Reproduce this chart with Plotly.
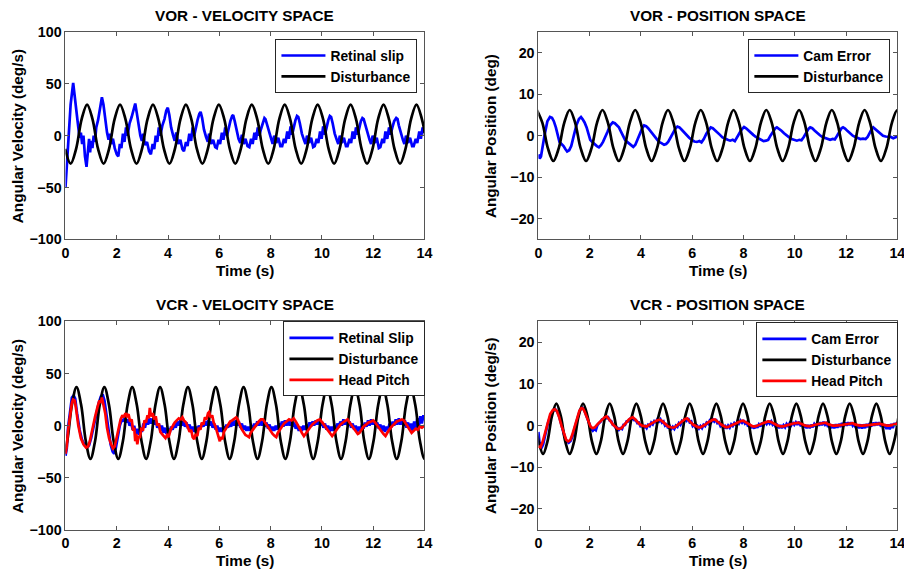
import plotly.graph_objects as go

# ---------------- DATA ----------------
# VOR - velocity space : disturbance (deg/s)
vor_vel_dist_t = [-0.014, 0.200, 0.414, 0.628, 0.842, 1.056, 1.270, 1.485, 1.699, 1.913, 2.127, 2.341, 2.555,
                  2.769, 2.983, 3.197, 3.412, 3.626, 3.840, 4.054, 4.268, 4.482, 4.696, 4.910, 5.124,
                  5.339, 5.553, 5.767, 5.981, 6.195, 6.409, 6.623, 6.837, 7.051, 7.266, 7.480, 7.694,
                  7.908, 8.122, 8.336, 8.550, 8.764, 8.978, 9.193, 9.407, 9.621, 9.835, 10.049, 10.263,
                  10.477, 10.691, 10.905, 11.120, 11.334, 11.548, 11.762, 11.976, 12.190, 12.404, 12.618, 12.832,
                  13.047, 13.261, 13.475, 13.689, 13.903, 14.117]
vor_vel_dist_v = [-12.75,
                  -27, -12.75, 15.75, 30, 15.75, -12.75,
                  -27, -12.75, 15.75, 30, 15.75, -12.75,
                  -27, -12.75, 15.75, 30, 15.75, -12.75,
                  -27, -12.75, 15.75, 30, 15.75, -12.75,
                  -27, -12.75, 15.75, 30, 15.75, -12.75,
                  -27, -12.75, 15.75, 30, 15.75, -12.75,
                  -27, -12.75, 15.75, 30, 15.75, -12.75,
                  -27, -12.75, 15.75, 30, 15.75, -12.75,
                  -27, -12.75, 15.75, 30, 15.75, -12.75,
                  -27, -12.75, 15.75, 30, 15.75, -12.75,
                  -27, -12.75, 15.75, 30, 15.75, -12.75]

# VOR - velocity space : retinal slip (t, deg/s)
vor_vel_slip = [(0.00, -50), (0.05, -30), (0.12, 5), (0.2, 30), (0.3, 51), (0.36, 40), (0.42, 25), (0.5, 8),
                (0.55, -2), (0.6, 3), (0.65, -8), (0.7, 0), (0.76, -20), (0.82, -30), (0.87, -12), (0.92, -3),
                (0.96, -16), (1.0, -5), (1.05, -12), (1.1, 0), (1.15, -6), (1.2, 8), (1.27, 15), (1.35, 28),
                (1.42, 37), (1.48, 30), (1.55, 15), (1.62, 3), (1.68, -4), (1.72, 2), (1.78, -8), (1.85, -3),
                (1.92, -12), (2.0, -18), (2.06, -20), (2.12, -8), (2.18, -12), (2.24, 2), (2.3, -6), (2.36, 8),
                (2.42, 0), (2.5, 12), (2.58, 18), (2.66, 27), (2.72, 31), (2.78, 22), (2.85, 10), (2.92, 0),
                (2.98, -5), (3.03, 2), (3.1, -9), (3.18, -6), (3.26, -15), (3.33, -18), (3.4, -8), (3.46, -13),
                (3.52, 0), (3.58, -6), (3.64, 8), (3.7, 0), (3.78, 10), (3.86, 16), (3.93, 24), (3.99, 27),
                (4.05, 20), (4.12, 8), (4.2, 0), (4.26, -5), (4.32, 3), (4.4, -8), (4.48, -4), (4.56, -13),
                (4.62, -15), (4.7, -6), (4.76, -10), (4.83, 2), (4.9, -5), (4.96, 8), (5.02, 0), (5.08, 8),
                (5.15, 15), (5.22, 21), (5.27, 23), (5.33, 17), (5.4, 6), (5.48, -1), (5.55, -6), (5.6, 2),
                (5.68, -8), (5.76, -4), (5.84, -11), (5.9, -12), (5.97, -4), (6.03, -8), (6.1, 3), (6.16, -4),
                (6.23, 8), (6.3, 0), (6.36, 7), (6.43, 14), (6.5, 19), (6.54, 20), (6.6, 14), (6.68, 4),
                (6.75, -3), (6.82, -7), (6.88, 1), (6.95, -8), (7.02, -3), (7.1, -10), (7.17, -11), (7.24, -3),
                (7.3, -8), (7.37, 3), (7.43, -4), (7.5, 8), (7.56, 0), (7.62, 6), (7.7, 12), (7.76, 17),
                (7.8, 16), (7.86, 11), (7.94, 2), (8.02, -4), (8.08, -8), (8.14, 0), (8.22, -7), (8.3, -2),
                (8.38, -10), (8.45, -10), (8.52, -3), (8.58, -7), (8.65, 4), (8.71, -3), (8.78, 9), (8.84, 1),
                (8.9, 8), (8.97, 15), (9.03, 19), (9.08, 18), (9.14, 12), (9.22, 2), (9.3, -4), (9.36, -8),
                (9.42, 0), (9.5, -7), (9.58, -2), (9.66, -11), (9.72, -10), (9.8, -3), (9.86, -7), (9.93, 4),
                (9.99, -3), (10.05, 9), (10.12, 1), (10.18, 8), (10.25, 15), (10.31, 19), (10.36, 18), (10.42, 12),
                (10.5, 2), (10.58, -4), (10.64, -8), (10.7, 0), (10.78, -7), (10.86, -2), (10.94, -10), (11.0, -10),
                (11.08, -3), (11.14, -7), (11.2, 4), (11.27, -3), (11.33, 8), (11.4, 1), (11.46, 8), (11.52, 14),
                (11.58, 17), (11.63, 16), (11.7, 10), (11.78, 2), (11.86, -4), (11.92, -8), (11.98, 0), (12.06, -7),
                (12.14, -2), (12.22, -12), (12.28, -11), (12.36, -3), (12.42, -7), (12.48, 4), (12.55, -3), (12.62, 8),
                (12.68, 1), (12.75, 8), (12.82, 14), (12.9, 17), (12.95, 16), (13.0, 10), (13.08, 2), (13.16, -4),
                (13.22, -8), (13.28, 0), (13.36, -7), (13.44, -2), (13.52, -10), (13.58, -10), (13.66, -3), (13.72, -7),
                (13.8, 4), (13.86, -3), (13.93, 8), (14.0, 3)]

# VOR - position space : disturbance (deg)
vor_pos_dist_t = [-0.058, 0.155, 0.368, 0.581, 0.794, 1.007, 1.220, 1.433, 1.646, 1.859, 2.072, 2.285, 2.498,
                  2.711, 2.924, 3.137, 3.350, 3.563, 3.776, 3.989, 4.202, 4.415, 4.628, 4.841, 5.054,
                  5.267, 5.480, 5.693, 5.906, 6.119, 6.332, 6.545, 6.758, 6.971, 7.184, 7.397, 7.610,
                  7.823, 8.036, 8.249, 8.462, 8.675, 8.888, 9.101, 9.314, 9.527, 9.740, 9.953, 10.166,
                  10.379, 10.592, 10.805, 11.018, 11.231, 11.444, 11.657, 11.870, 12.083, 12.296, 12.509, 12.722,
                  12.935, 13.148, 13.361, 13.574, 13.787, 14.000, 14.213]
vor_pos_dist_v = [6.2, 3.1, -3.0, -6.1, -3.0, 3.1,
                  6.2, 3.1, -3.0, -6.1, -3.0, 3.1,
                  6.2, 3.1, -3.0, -6.1, -3.0, 3.1,
                  6.2, 3.1, -3.0, -6.1, -3.0, 3.1,
                  6.2, 3.1, -3.0, -6.1, -3.0, 3.1,
                  6.2, 3.1, -3.0, -6.1, -3.0, 3.1,
                  6.2, 3.1, -3.0, -6.1, -3.0, 3.1,
                  6.2, 3.1, -3.0, -6.1, -3.0, 3.1,
                  6.2, 3.1, -3.0, -6.1, -3.0, 3.1,
                  6.2, 3.1, -3.0, -6.1, -3.0, 3.1,
                  6.2, 3.1, -3.0, -6.1, -3.0, 3.1,
                  6.2, 3.1]

# VOR - position space : cam error (t, deg)
vor_pos_err = [(0.0, -4.5), (0.05, -5.5), (0.1, -5.0), (0.15, -3.0), (0.25, 0.5), (0.35, 3.5), (0.45, 4.5),
               (0.53, 4.3), (0.6, 3.5), (0.68, 2.0), (0.75, 0.0), (0.82, -1.5), (0.9, -2.0), (0.98, -2.5),
               (1.05, -3.2), (1.12, -3.8), (1.2, -3.5), (1.28, -2.5), (1.38, 0.0), (1.48, 2.5), (1.58, 4.0),
               (1.66, 4.5), (1.72, 4.0), (1.8, 3.2), (1.88, 2.0), (1.95, 0.5), (2.02, -1.0), (2.1, -1.5),
               (2.18, -2.0), (2.28, -2.5), (2.36, -2.8), (2.44, -2.3), (2.52, -1.5), (2.6, -0.5), (2.7, 1.0),
               (2.8, 2.5), (2.9, 3.2), (2.98, 3.0), (3.06, 2.5), (3.14, 2.0), (3.22, 1.0), (3.3, 0.0),
               (3.38, -1.0), (3.46, -1.5), (3.55, -2.0), (3.62, -2.3), (3.7, -2.7), (3.78, -2.2), (3.86, -1.0),
               (3.95, 0.5), (4.05, 1.8), (4.12, 2.5), (4.2, 2.3), (4.28, 1.8), (4.36, 1.2), (4.45, 0.5),
               (4.55, -0.3), (4.62, -1.0), (4.7, -1.5), (4.8, -1.8), (4.9, -2.2), (4.98, -2.0), (5.06, -1.5),
               (5.15, -0.5), (5.25, 0.8), (5.35, 1.8), (5.42, 2.2), (5.5, 2.0), (5.58, 1.5), (5.68, 0.8),
               (5.78, 0.0), (5.88, -0.5), (5.98, -1.0), (6.08, -1.4), (6.18, -1.5), (6.28, -1.3), (6.36, -1.6),
               (6.45, -0.8), (6.55, 0.5), (6.65, 1.5), (6.72, 2.0), (6.8, 1.8), (6.88, 1.4), (6.98, 0.8),
               (7.08, 0.2), (7.18, -0.4), (7.28, -0.8), (7.38, -1.0), (7.48, -1.2), (7.58, -1.0), (7.66, -1.3),
               (7.75, -0.5), (7.85, 0.7), (7.94, 1.6), (8.02, 2.1), (8.1, 1.8), (8.18, 1.3), (8.28, 0.7),
               (8.38, 0.2), (8.48, -0.3), (8.58, -0.7), (8.68, -1.0), (8.78, -1.3), (8.88, -1.2), (8.96, -1.0),
               (9.05, 0.0), (9.15, 1.0), (9.24, 1.8), (9.3, 2.0), (9.38, 1.7), (9.48, 1.2), (9.58, 0.6),
               (9.68, 0.0), (9.78, -0.4), (9.88, -0.8), (9.98, -1.0), (10.08, -1.2), (10.18, -1.0), (10.26, -1.1),
               (10.35, -0.3), (10.45, 0.8), (10.54, 1.7), (10.6, 2.0), (10.68, 1.8), (10.78, 1.2), (10.88, 0.6),
               (10.98, 0.1), (11.08, -0.3), (11.18, -0.6), (11.28, -0.8), (11.38, -1.0), (11.48, -0.8), (11.56, -0.9),
               (11.65, 0.0), (11.74, 1.0), (11.82, 1.8), (11.88, 2.0), (11.96, 1.7), (12.06, 1.1), (12.16, 0.5),
               (12.26, 0.0), (12.36, -0.3), (12.46, -0.6), (12.56, -0.8), (12.66, -0.7), (12.76, -0.8), (12.84, -0.3),
               (12.92, 0.8), (13.0, 1.6), (13.06, 2.0), (13.14, 1.6), (13.24, 1.0), (13.34, 0.4), (13.44, 0.0),
               (13.54, -0.2), (13.64, -0.3), (13.74, -0.3), (13.84, -0.6), (13.92, -0.4), (14.0, -0.2)]

# VCR - velocity space : disturbance (deg/s)
vcr_vel_dist_t = [-0.113, 0.068, 0.249, 0.430, 0.611, 0.792, 0.973, 1.154, 1.335, 1.516, 1.697, 1.878,
                  2.059, 2.240, 2.421, 2.602, 2.783, 2.964, 3.145, 3.326, 3.507, 3.688, 3.869, 4.050,
                  4.231, 4.412, 4.593, 4.774, 4.955, 5.136, 5.317, 5.498, 5.679, 5.860, 6.041, 6.222,
                  6.403, 6.584, 6.765, 6.946, 7.127, 7.308, 7.489, 7.670, 7.851, 8.032, 8.213, 8.394,
                  8.575, 8.756, 8.937, 9.118, 9.299, 9.480, 9.661, 9.842, 10.023, 10.204, 10.385, 10.566,
                  10.747, 10.928, 11.109, 11.290, 11.471, 11.652, 11.833, 12.014, 12.195, 12.376, 12.557, 12.738,
                  12.919, 13.100, 13.281, 13.462, 13.643, 13.824, 14.005, 14.186]
vcr_vel_dist_v = [-32, -14.75, 19.75, 37, 19.75, -14.75,
                  -32, -14.75, 19.75, 37, 19.75, -14.75,
                  -32, -14.75, 19.75, 37, 19.75, -14.75,
                  -32, -14.75, 19.75, 37, 19.75, -14.75,
                  -32, -14.75, 19.75, 37, 19.75, -14.75,
                  -32, -14.75, 19.75, 37, 19.75, -14.75,
                  -32, -14.75, 19.75, 37, 19.75, -14.75,
                  -32, -14.75, 19.75, 37, 19.75, -14.75,
                  -32, -14.75, 19.75, 37, 19.75, -14.75,
                  -32, -14.75, 19.75, 37, 19.75, -14.75,
                  -32, -14.75, 19.75, 37, 19.75, -14.75,
                  -32, -14.75, 19.75, 37, 19.75, -14.75,
                  -32, -14.75, 19.75, 37, 19.75, -14.75,
                  -32, -14.75]

# VCR - velocity space : retinal slip (t, deg/s)
vcr_vel_slip = [(0.0, -29), (0.05, -22), (0.1, -2), (0.18, 15), (0.25, 27), (0.32, 29), (0.38, 26), (0.45, 12),
                (0.55, -4), (0.65, -14), (0.75, -19), (0.85, -21), (0.92, -19), (1.0, -12), (1.1, 0), (1.2, 12),
                (1.3, 22), (1.38, 28), (1.45, 30), (1.52, 24), (1.6, 10), (1.68, -5), (1.76, -18), (1.84, -25),
                (1.9, -27), (1.96, -22), (2.04, -10), (2.12, 0), (2.2, 6), (2.26, 4), (2.32, 8), (2.38, 3),
                (2.44, 6), (2.5, 0), (2.56, 3), (2.62, -4), (2.68, 0), (2.74, -8), (2.8, -3), (2.86, -9),
                (2.92, -2), (2.98, -6), (3.04, 2), (3.1, -2), (3.16, 5), (3.22, 1), (3.28, 7), (3.34, 2),
                (3.4, 7), (3.46, 1), (3.52, 5), (3.58, -2), (3.64, 2), (3.7, -5), (3.76, 0), (3.82, -7),
                (3.88, -2), (3.94, -8), (4.0, -3), (4.06, -7), (4.12, -1), (4.18, -4), (4.24, 2), (4.3, -2),
                (4.36, 4), (4.42, 0), (4.48, 5), (4.54, 0), (4.6, 4), (4.66, -1), (4.72, 3), (4.78, -3),
                (4.84, 1), (4.9, -5), (4.96, -1), (5.02, -6), (5.08, -1), (5.14, -5), (5.2, 0), (5.26, -3),
                (5.32, 2), (5.38, -1), (5.44, 4), (5.5, 0), (5.56, 5), (5.62, 0), (5.68, 4), (5.74, -2),
                (5.8, 2), (5.86, -4), (5.92, 0), (5.98, -6), (6.04, -2), (6.1, -6), (6.16, -1), (6.22, -4),
                (6.28, 1), (6.34, -2), (6.4, 3), (6.46, -1), (6.52, 5), (6.58, 0), (6.64, 5), (6.7, 0),
                (6.76, 4), (6.82, -2), (6.88, 2), (6.94, -4), (7.0, 0), (7.06, -5), (7.12, -1), (7.18, -5),
                (7.24, 0), (7.3, -3), (7.36, 2), (7.42, -1), (7.48, 4), (7.54, 0), (7.6, 5), (7.66, 0),
                (7.72, 4), (7.78, -1), (7.84, 3), (7.9, -3), (7.96, 1), (8.02, -5), (8.08, -1), (8.14, -5),
                (8.2, 0), (8.26, -4), (8.32, 2), (8.38, -2), (8.44, 4), (8.5, -1), (8.56, 5), (8.62, 0),
                (8.68, 5), (8.74, 0), (8.8, 4), (8.86, -1), (8.92, 3), (8.98, -3), (9.04, 1), (9.1, -5),
                (9.16, -1), (9.22, -5), (9.28, 0), (9.34, -4), (9.4, 1), (9.46, -2), (9.52, 3), (9.58, -1),
                (9.64, 4), (9.7, 0), (9.76, 5), (9.82, 1), (9.88, 5), (9.94, 0), (10.0, 4), (10.06, -2),
                (10.12, 2), (10.18, -4), (10.24, 0), (10.3, -6), (10.36, -1), (10.42, -5), (10.48, 0), (10.54, -4),
                (10.6, 2), (10.66, -2), (10.72, 4), (10.78, 0), (10.84, 6), (10.9, 1), (10.96, 5), (11.02, 0),
                (11.08, 4), (11.14, -2), (11.2, 2), (11.26, -4), (11.32, 0), (11.38, -6), (11.44, -1), (11.5, -5),
                (11.56, 1), (11.62, -3), (11.68, 3), (11.74, -1), (11.8, 5), (11.86, 0), (11.92, 6), (11.98, 1),
                (12.04, 5), (12.1, -1), (12.16, 3), (12.22, -3), (12.28, 1), (12.34, -5), (12.4, 0), (12.46, -6),
                (12.52, -1), (12.58, -4), (12.64, 2), (12.7, -2), (12.76, 4), (12.82, 0), (12.88, 6), (12.94, 1),
                (13.0, 7), (13.06, 1), (13.12, 6), (13.18, 0), (13.24, 5), (13.3, -2), (13.36, 3), (13.42, -4),
                (13.48, 2), (13.54, -5), (13.6, 4), (13.66, -3), (13.72, 7), (13.78, -1), (13.84, 9), (13.9, 2),
                (13.96, 10), (14.0, 5)]

# VCR - velocity space : head pitch (t, deg/s)
vcr_vel_head = [(0.0, -27), (0.05, -20), (0.1, -5), (0.18, 12), (0.25, 22), (0.3, 25), (0.36, 24), (0.42, 15),
                (0.5, 0), (0.6, -12), (0.7, -18), (0.8, -21), (0.88, -20), (0.95, -15), (1.05, -2), (1.15, 8),
                (1.25, 18), (1.32, 24), (1.38, 22), (1.42, 27), (1.48, 20), (1.55, 12), (1.62, -2), (1.7, -12),
                (1.78, -18), (1.85, -22), (1.92, -20), (2.0, -10), (2.08, 0), (2.15, 6), (2.22, 10), (2.28, 8),
                (2.34, 12), (2.4, 9), (2.46, 11), (2.52, 4), (2.58, 6), (2.64, -5), (2.68, -2), (2.72, -15),
                (2.76, -8), (2.8, -18), (2.85, -10), (2.9, -12), (2.96, -2), (3.02, -5), (3.08, 5), (3.14, 3),
                (3.2, 10), (3.25, 7), (3.29, 17), (3.33, 9), (3.4, 12), (3.46, 6), (3.52, 9), (3.58, 0),
                (3.64, 2), (3.7, -6), (3.76, -8), (3.84, -10), (3.9, -12), (3.96, -9), (4.02, -11), (4.1, -4),
                (4.18, 0), (4.26, 3), (4.34, 5), (4.42, 7), (4.5, 6), (4.56, 8), (4.62, 5), (4.7, 3),
                (4.78, -2), (4.84, -6), (4.9, -4), (4.96, -11), (5.02, -13), (5.08, -8), (5.14, -10), (5.2, -2),
                (5.26, -4), (5.32, 3), (5.38, 1), (5.44, 8), (5.5, 6), (5.56, 12), (5.6, 13), (5.66, 8),
                (5.72, 10), (5.78, 3), (5.84, 0), (5.9, -6), (5.96, -9), (6.02, -15), (6.06, -11), (6.12, -13),
                (6.18, -6), (6.26, -3), (6.34, 1), (6.42, 4), (6.5, 5), (6.58, 7), (6.66, 8), (6.72, 6),
                (6.78, 2), (6.86, -3), (6.94, -6), (7.02, -9), (7.1, -10), (7.16, -11), (7.22, -7), (7.3, -4),
                (7.38, -1), (7.46, 2), (7.54, 4), (7.62, 6), (7.7, 6), (7.76, 4), (7.84, 1), (7.92, -3),
                (8.0, -6), (8.08, -8), (8.16, -10), (8.22, -11), (8.28, -7), (8.36, -4), (8.44, -1), (8.52, 2),
                (8.62, 4), (8.72, 6), (8.82, 5), (8.9, 7), (8.98, 4), (9.06, 1), (9.14, -3), (9.22, -7),
                (9.3, -10), (9.36, -8), (9.44, -5), (9.52, -2), (9.62, 1), (9.72, 3), (9.82, 5), (9.92, 6),
                (10.0, 4), (10.08, 1), (10.16, -2), (10.24, -5), (10.32, -8), (10.4, -10), (10.46, -8), (10.54, -5),
                (10.62, -2), (10.72, 1), (10.82, 3), (10.92, 5), (11.0, 6), (11.08, 3), (11.16, 0), (11.24, -3),
                (11.32, -6), (11.4, -8), (11.46, -7), (11.54, -4), (11.62, -1), (11.72, 1), (11.82, 3), (11.92, 4),
                (12.0, 5), (12.08, 3), (12.16, 0), (12.24, -3), (12.32, -6), (12.4, -8), (12.48, -10), (12.54, -7),
                (12.62, -4), (12.72, -1), (12.82, 2), (12.92, 4), (13.02, 5), (13.12, 6), (13.2, 5), (13.28, 2),
                (13.36, -2), (13.44, -5), (13.5, -7), (13.58, -5), (13.66, -3), (13.74, -4), (13.82, -1), (13.9, -2),
                (14.0, 0)]

# VCR - position space : disturbance (deg)
vcr_pos_dist_t = [-0.167, 0.007, 0.180, 0.353, 0.527, 0.700, 0.873, 1.047, 1.220, 1.393, 1.567, 1.740,
                  1.913, 2.087, 2.260, 2.433, 2.607, 2.780, 2.953, 3.127, 3.300, 3.473, 3.647, 3.820,
                  3.993, 4.167, 4.340, 4.513, 4.687, 4.860, 5.033, 5.207, 5.380, 5.553, 5.727, 5.900,
                  6.073, 6.247, 6.420, 6.593, 6.767, 6.940, 7.113, 7.287, 7.460, 7.633, 7.807, 7.980,
                  8.153, 8.327, 8.500, 8.673, 8.847, 9.020, 9.193, 9.367, 9.540, 9.713, 9.887, 10.060,
                  10.233, 10.407, 10.580, 10.753, 10.927, 11.100, 11.273, 11.447, 11.620, 11.793, 11.967, 12.140,
                  12.313, 12.487, 12.660, 12.833, 13.007, 13.180, 13.353, 13.527, 13.700, 13.873, 14.047]
vcr_pos_dist_v = [2.275, -3.775, -6.8, -3.775, 2.275, 5.3,
                  2.275, -3.775, -6.8, -3.775, 2.275, 5.3,
                  2.275, -3.775, -6.8, -3.775, 2.275, 5.3,
                  2.275, -3.775, -6.8, -3.775, 2.275, 5.3,
                  2.275, -3.775, -6.8, -3.775, 2.275, 5.3,
                  2.275, -3.775, -6.8, -3.775, 2.275, 5.3,
                  2.275, -3.775, -6.8, -3.775, 2.275, 5.3,
                  2.275, -3.775, -6.8, -3.775, 2.275, 5.3,
                  2.275, -3.775, -6.8, -3.775, 2.275, 5.3,
                  2.275, -3.775, -6.8, -3.775, 2.275, 5.3,
                  2.275, -3.775, -6.8, -3.775, 2.275, 5.3,
                  2.275, -3.775, -6.8, -3.775, 2.275, 5.3,
                  2.275, -3.775, -6.8, -3.775, 2.275, 5.3,
                  2.275, -3.775, -6.8, -3.775, 2.275]

# VCR - position space : cam error (t, deg)
vcr_pos_err = [(0.0, -1.5), (0.04, -4.0), (0.1, -5.6), (0.18, -4.6), (0.28, -1.8), (0.38, 0.8), (0.48, 2.6),
               (0.58, 3.6), (0.66, 3.9), (0.74, 3.3), (0.82, 2.0), (0.92, -0.3), (1.02, -2.6), (1.1, -3.7),
               (1.18, -4.1), (1.26, -3.6), (1.34, -2.3), (1.44, 0.0), (1.54, 2.3), (1.62, 3.7), (1.7, 4.3),
               (1.76, 4.0), (1.82, 3.2), (1.9, 1.7), (1.98, 0.2), (2.06, -0.8), (2.12, -1.2), (2.18, -0.8),
               (2.24, -1.1), (2.3, 0.1), (2.36, 0.6), (2.42, 0.9), (2.48, 1.5), (2.54, 1.6), (2.6, 2.1),
               (2.66, 1.8), (2.72, 2.0), (2.78, 1.2), (2.84, 1.1), (2.9, 0.2), (2.96, 0.0), (3.02, -0.6),
               (3.08, -0.5), (3.14, -1.0), (3.2, -0.6), (3.26, -0.8), (3.32, 0.2), (3.38, 0.2), (3.44, 1.0),
               (3.5, 1.0), (3.56, 1.6), (3.62, 1.5), (3.68, 1.9), (3.74, 1.3), (3.8, 1.3), (3.86, 0.6),
               (3.92, 0.7), (3.98, -0.1), (4.04, 0.1), (4.1, -0.5), (4.16, -0.1), (4.22, -0.6), (4.28, 0.2),
               (4.34, -0.1), (4.4, 0.7), (4.46, 0.3), (4.52, 1.1), (4.58, 0.8), (4.64, 1.5), (4.7, 1.0),
               (4.76, 1.5), (4.82, 0.7), (4.88, 1.0), (4.94, 0.0), (5.0, 0.3), (5.06, -0.6), (5.12, -0.1),
               (5.18, -0.8), (5.24, -0.3), (5.3, -0.8), (5.36, 0.0), (5.42, -0.3), (5.48, 0.6), (5.54, 0.2),
               (5.6, 1.1), (5.66, 0.8), (5.72, 1.7), (5.78, 1.2), (5.84, 1.8), (5.9, 0.8), (5.96, 1.0),
               (6.02, -0.1), (6.08, 0.3), (6.14, -0.6), (6.2, -0.1), (6.26, -0.7), (6.32, -0.1), (6.38, -0.6),
               (6.44, 0.2), (6.5, -0.1), (6.56, 0.7), (6.62, 0.4), (6.68, 1.2), (6.74, 0.8), (6.8, 1.5),
               (6.86, 1.0), (6.92, 1.5), (6.98, 0.6), (7.04, 0.8), (7.1, -0.1), (7.16, 0.3), (7.22, -0.6),
               (7.28, -0.1), (7.34, -0.7), (7.4, 0.0), (7.46, -0.5), (7.52, 0.3), (7.58, -0.1), (7.64, 0.6),
               (7.7, 0.2), (7.76, 1.0), (7.82, 0.5), (7.88, 1.2), (7.94, 0.7), (8.0, 1.3), (8.06, 0.5),
               (8.12, 0.8), (8.18, -0.2), (8.24, 0.3), (8.3, -0.6), (8.36, 0.0), (8.42, -0.7), (8.48, 0.1),
               (8.54, -0.5), (8.6, 0.3), (8.66, -0.2), (8.72, 0.7), (8.78, 0.2), (8.84, 0.9), (8.9, 0.4),
               (8.96, 1.1), (9.02, 0.5), (9.08, 1.0), (9.14, 0.2), (9.2, 0.5), (9.26, -0.4), (9.32, 0.1),
               (9.38, -0.6), (9.44, 0.1), (9.5, -0.6), (9.56, 0.1), (9.62, -0.4), (9.68, 0.4), (9.74, -0.1),
               (9.8, 0.6), (9.86, 0.1), (9.92, 0.8), (9.98, 0.2), (10.04, 0.8), (10.1, 0.2), (10.16, 0.9),
               (10.22, 0.1), (10.28, 0.4), (10.34, -0.4), (10.4, 0.2), (10.46, -0.6), (10.52, 0.1), (10.58, -0.6),
               (10.64, 0.2), (10.7, -0.4), (10.76, 0.4), (10.82, -0.1), (10.88, 0.6), (10.94, 0.0), (11.0, 0.8),
               (11.06, 0.1), (11.12, 0.9), (11.18, 0.2), (11.24, 0.6), (11.3, -0.3), (11.36, 0.3), (11.42, -0.6),
               (11.48, 0.2), (11.54, -0.6), (11.6, 0.3), (11.66, -0.5), (11.72, 0.4), (11.78, -0.3), (11.84, 0.6),
               (11.9, -0.1), (11.96, 0.7), (12.02, 0.0), (12.08, 0.8), (12.14, 0.1), (12.2, 0.8), (12.26, 0.0),
               (12.32, 0.5), (12.38, -0.5), (12.44, 0.2), (12.5, -0.6), (12.56, 0.3), (12.62, -0.7), (12.68, 0.3),
               (12.74, -0.6), (12.8, 0.4), (12.86, -0.4), (12.92, 0.6), (12.98, -0.2), (13.04, 0.7), (13.1, 0.0),
               (13.16, 0.8), (13.22, 0.1), (13.28, 0.8), (13.34, 0.1), (13.4, 0.5), (13.46, -0.5), (13.52, 0.3),
               (13.58, -0.8), (13.64, 0.3), (13.7, -0.9), (13.76, 0.4), (13.82, -0.6), (13.88, 0.6), (13.94, 0.0),
               (14.0, 0.8)]

# VCR - position space : head pitch (t, deg)
vcr_pos_head = [(0.0, -5.0), (0.08, -5.2), (0.16, -4.0), (0.26, -1.5), (0.36, 1.0), (0.46, 2.8), (0.56, 3.7),
                (0.64, 3.9), (0.72, 3.5), (0.8, 2.2), (0.9, 0.0), (1.0, -2.2), (1.08, -3.4), (1.16, -3.8),
                (1.24, -3.5), (1.32, -2.2), (1.42, 0.0), (1.52, 2.2), (1.6, 3.6), (1.68, 4.2), (1.74, 4.1),
                (1.8, 3.4), (1.88, 2.0), (1.96, 0.6), (2.04, -0.3), (2.12, -0.6), (2.2, -0.4), (2.3, 0.3),
                (2.4, 1.0), (2.5, 1.6), (2.58, 2.0), (2.66, 2.2), (2.72, 1.8), (2.8, 1.2), (2.9, 0.3),
                (3.0, -0.3), (3.08, -0.7), (3.16, -0.8), (3.24, -0.6), (3.32, 0.0), (3.42, 0.8), (3.52, 1.4),
                (3.6, 1.8), (3.68, 2.0), (3.76, 1.6), (3.84, 1.0), (3.94, 0.4), (4.04, 0.0), (4.14, -0.2),
                (4.22, -0.2), (4.3, 0.1), (4.4, 0.5), (4.5, 0.9), (4.6, 1.2), (4.7, 1.4), (4.78, 1.3),
                (4.86, 0.9), (4.96, 0.3), (5.06, -0.2), (5.16, -0.4), (5.26, -0.5), (5.34, -0.3), (5.44, 0.2),
                (5.54, 0.8), (5.64, 1.3), (5.72, 1.6), (5.8, 1.7), (5.86, 1.4), (5.94, 0.8), (6.04, 0.2),
                (6.14, -0.2), (6.24, -0.4), (6.32, -0.4), (6.42, -0.1), (6.52, 0.3), (6.62, 0.8), (6.72, 1.2),
                (6.8, 1.4), (6.88, 1.5), (6.96, 1.2), (7.04, 0.7), (7.14, 0.2), (7.24, -0.2), (7.32, -0.4),
                (7.4, -0.3), (7.5, 0.0), (7.6, 0.3), (7.7, 0.6), (7.8, 0.9), (7.9, 1.1), (7.98, 1.2),
                (8.06, 0.9), (8.16, 0.4), (8.26, 0.0), (8.36, -0.2), (8.46, -0.2), (8.56, 0.0), (8.66, 0.3),
                (8.76, 0.6), (8.86, 0.8), (8.96, 1.0), (9.06, 0.9), (9.14, 0.6), (9.24, 0.2), (9.34, 0.0),
                (9.44, -0.2), (9.54, -0.2), (9.64, 0.0), (9.74, 0.2), (9.84, 0.4), (9.94, 0.5), (10.04, 0.6),
                (10.14, 0.7), (10.22, 0.5), (10.32, 0.2), (10.42, 0.0), (10.52, -0.1), (10.62, -0.1), (10.72, 0.1),
                (10.82, 0.3), (10.92, 0.4), (11.02, 0.5), (11.12, 0.6), (11.2, 0.7), (11.28, 0.4), (11.38, 0.2),
                (11.48, 0.0), (11.58, 0.0), (11.68, 0.0), (11.78, 0.1), (11.88, 0.2), (11.98, 0.3), (12.08, 0.4),
                (12.18, 0.5), (12.26, 0.6), (12.34, 0.3), (12.44, 0.1), (12.54, 0.0), (12.64, 0.0), (12.74, 0.0),
                (12.84, 0.1), (12.94, 0.2), (13.04, 0.3), (13.14, 0.4), (13.24, 0.5), (13.32, 0.5), (13.4, 0.3),
                (13.5, 0.1), (13.6, 0.0), (13.7, 0.0), (13.8, 0.1), (13.9, 0.3), (14.0, 0.5)]

x_ticks = [0, 2, 4, 6, 8, 10, 12, 14]
vel_ticks = [-100, -50, 0, 50, 100]
pos_ticks = [-20, -10, 0, 10, 20]

titles = ["VOR - VELOCITY SPACE", "VOR - POSITION SPACE", "VCR - VELOCITY SPACE", "VCR - POSITION SPACE"]
ylabels = ["Angular Velocity (deg/s)", "Angular Position (deg)", "Angular Velocity (deg/s)", "Angular Position (deg/s)"]
xlabel = "Time (s)"

# ---------------- FIGURE ----------------
# Observed page-to-photo mapping: photo = A + S * figure_px (measured on earlier renders).
AX, SX = 3.5, 0.987
AY, SY = 8.0, 0.971
W, H = 913, 581
FONT = "Liberation Sans, Arial, Helvetica, sans-serif"
BLUE, BLACK, RED = "#0000FF", "#000000", "#FF0000"
LW = 2.7

def px(x):
    return ((x - AX) / SX) / W

def py(y):
    return 1 - ((y - AY) / SY) / H

def unzip(pairs):
    return [p[0] for p in pairs], [p[1] for p in pairs]

fig = go.Figure()

def add_line(x, y, name, color, ax, spline=False):
    sfx = "" if ax == 1 else str(ax)
    fig.add_trace(go.Scatter(
        x=x, y=y, name=name, mode="lines",
        line=dict(color=color, width=LW, shape="spline" if spline else "linear"),
        xaxis="x" + sfx, yaxis="y" + sfx, legend="legend" + sfx, showlegend=True))

t, v = unzip(vor_vel_slip)
add_line(t, v, "Retinal slip", BLUE, 1)
add_line(vor_vel_dist_t, vor_vel_dist_v, "Disturbance", BLACK, 1, spline=True)

t, v = unzip(vor_pos_err)
add_line(t, v, "Cam Error", BLUE, 2)
add_line(vor_pos_dist_t, vor_pos_dist_v, "Disturbance", BLACK, 2, spline=True)

t, v = unzip(vcr_vel_slip)
add_line(t, v, "Retinal Slip", BLUE, 3)
add_line(vcr_vel_dist_t, vcr_vel_dist_v, "Disturbance", BLACK, 3, spline=True)
t, v = unzip(vcr_vel_head)
add_line(t, v, "Head Pitch", RED, 3)

t, v = unzip(vcr_pos_err)
add_line(t, v, "Cam Error", BLUE, 4)
add_line(vcr_pos_dist_t, vcr_pos_dist_v, "Disturbance", BLACK, 4, spline=True)
t, v = unzip(vcr_pos_head)
add_line(t, v, "Head Pitch", RED, 4)

# target photo-pixel geometry of the four axes boxes (left, right, top, bottom)
boxes = [(65, 424, 32, 239), (538, 897, 32, 239), (65, 424, 321, 529), (538, 897, 321, 529)]
yranges = [[-100, 100], [-25, 25], [-100, 100], [-25, 25]]
yticks = [vel_ticks, pos_ticks, vel_ticks, pos_ticks]
legend_pos = [(417, 39), (890, 39), (425, 321), (898, 322)]

axis_common = dict(showgrid=False, zeroline=False, showline=True, linecolor="#555555", linewidth=1,
                   mirror="ticks", ticks="inside", ticklen=4, tickwidth=1, tickcolor="#555555",
                   tickfont=dict(family=FONT, size=14.3, color="#000000", weight="bold"))

layout = dict(width=W, height=H, margin=dict(l=0, r=0, t=0, b=0),
              paper_bgcolor="white", plot_bgcolor="white", showlegend=True)

label_font = dict(family=FONT, size=15.3, color="#000000", weight="bold")
annotations = []
for i, (l, r, tp, bt) in enumerate(boxes):
    sfx = "" if i == 0 else str(i + 1)
    layout["xaxis" + sfx] = dict(axis_common, domain=[px(l), px(r)], range=[0, 14], tickvals=x_ticks,
                                 anchor="y" + sfx)
    layout["yaxis" + sfx] = dict(axis_common, domain=[py(bt), py(tp)], range=yranges[i],
                                 tickvals=yticks[i], anchor="x" + sfx)
    cx = (l + r) / 2
    annotations.append(dict(text=titles[i], x=px(cx), y=py(tp - 17), xref="paper", yref="paper",
                            xanchor="center", yanchor="middle", showarrow=False, font=label_font))
    annotations.append(dict(text=xlabel, x=px(cx), y=py(bt + 31), xref="paper", yref="paper",
                            xanchor="center", yanchor="middle", showarrow=False, font=label_font))
    annotations.append(dict(text=ylabels[i], x=px(l - 48), y=py((tp + bt) / 2), xref="paper",
                            yref="paper", xanchor="center", yanchor="middle", showarrow=False, textangle=-90,
                            font=label_font))
    lx, ly = legend_pos[i]
    layout["legend" + sfx] = dict(x=px(lx), y=py(ly), xanchor="right", yanchor="top",
                                  bgcolor="white", bordercolor="#262626", borderwidth=1,
                                  font=dict(family=FONT, size=13.8, color="#000000", weight="bold"),
                                  itemwidth=44, tracegroupgap=0)

layout["annotations"] = annotations
fig.update_layout(**layout)
fig.write_html("out.html")
